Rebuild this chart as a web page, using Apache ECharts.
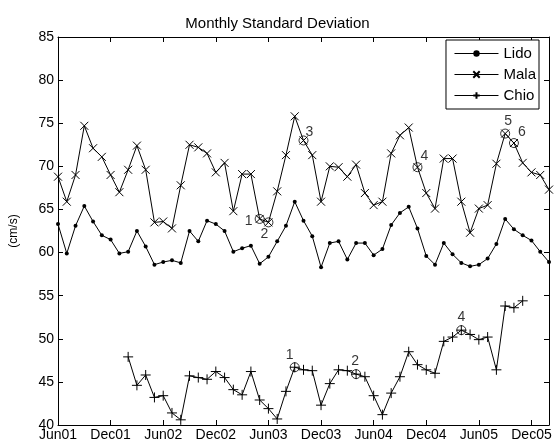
<!DOCTYPE html>
<html>
<head>
<meta charset="utf-8">
<script src="https://cdn.jsdelivr.net/npm/echarts@6/dist/echarts.min.js"></script>
<style>html,body{margin:0;padding:0;background:#fff;}#c{width:555px;height:445px;}</style>
</head>
<body>
<div id="c"></div>
<script>
// Month index 0 = Jun01
const xTickLabels = ['Jun01','Dec01','Jun02','Dec02','Jun03','Dec03','Jun04','Dec04','Jun05','Dec05'];
const lido = [63.3,59.9,63.1,65.4,63.6,62.0,61.5,59.9,60.1,62.5,
              60.7,58.6,58.9,59.1,58.8,62.5,61.3,63.7,63.3,62.5,
              60.1,60.5,60.8,58.7,59.5,61.3,63.1,65.9,63.7,61.9,
              58.3,61.1,61.3,59.2,61.1,61.1,59.7,60.4,63.2,64.6,
              65.3,62.8,59.6,58.6,61.1,59.8,58.8,58.4,58.6,59.3,
              61.0,63.9,62.7,62.0,61.4,60.1,58.9];
const mala = [68.8,65.9,69.0,74.7,72.1,71.1,69.0,67.0,69.6,72.4,
              69.6,63.5,63.6,62.8,67.8,72.5,72.2,71.5,69.3,70.4,
              64.8,69.1,69.1,63.9,63.5,67.1,71.3,75.8,73.0,71.3,
              65.9,70.0,69.9,68.8,70.2,66.9,65.5,65.9,71.5,73.6,
              74.5,69.9,66.9,65.1,70.9,70.9,65.9,62.3,65.1,65.5,
              70.3,73.8,72.7,70.4,69.3,69.0,67.3];
const chio = [null,null,null,null,null,null,null,null,47.9,44.6,
              45.8,43.2,43.4,41.4,40.6,45.7,45.5,45.3,46.2,45.5,
              44.1,43.5,46.2,42.9,41.9,40.7,43.9,46.7,46.4,46.3,
              42.3,44.8,46.4,46.3,45.9,45.6,43.4,41.2,43.7,45.6,
              48.5,47.0,46.4,46.0,49.7,50.2,51.0,50.5,49.9,50.2,
              46.4,53.8,53.6,54.4,null,null,null];
const malaMarkIdx = [23,24,28,41,51,52];
const malaMarkLabels = ['1','2','3','4','5','6'];
const chioMarkIdx = [27,34,46];
const chioMarkLabels = ['1','2','4'];
const seriesNames = ['Lido','Mala','Chio'];
</script>
<script>
const FONT = 'Liberation Sans';
const toPairs = arr => arr.map((v,i)=> v==null ? [i,null] : [i,v]);
const malaOffsets = [[-11,2],[-4,12],[6,-8],[7,-11],[3,-12],[8,-11]];
const chioOffsets = [[-5,-12],[-1,-13],[0,-13]];
function marks(idx, labels, src, offs){
  return idx.map((k,j)=>({
    value:[k, src[k]], name: labels[j],
    label:{show:true, position:'inside', offset:offs[j], formatter: labels[j],
           color:'#000', fontFamily:FONT, fontSize:14}
  }));
}
const xSym = 'path://M0,0L10,10M10,0L0,10';
const pSym = 'path://M5,0L5,10M0,5L10,5';
const lineBase = {type:'line', xAxisIndex:0, yAxisIndex:0, showAllSymbol:true, connectNulls:false,
  lineStyle:{color:'#000', width:1}, animation:false};
const chart = echarts.init(document.getElementById('c'), null, {renderer:'canvas'});
const axisCommon = {
  axisLine:{show:true, onZero:false, lineStyle:{color:'#000', width:1}},
  axisTick:{show:true, inside:true, length:5, lineStyle:{color:'#000'}},
  splitLine:{show:false}
};
chart.setOption({
  animation:false,
  backgroundColor:'#fff',
  title:{text:'Monthly Standard Deviation', left:'center', top:11, itemGap:0,
    textStyle:{fontFamily:FONT, fontSize:15, fontWeight:'normal', color:'#000'}},
  grid:{left:56, right:6, top:37, bottom:20, containLabel:false},
  legend:{data:seriesNames, orient:'vertical', right:16, top:40, itemWidth:44, itemHeight:8, itemGap:6,
    borderColor:'#000', borderWidth:1, padding:[6,3,6,8], backgroundColor:'#fff',
    lineStyle:{width:1, color:'#000'},
    textStyle:{fontFamily:FONT, fontSize:15, color:'#000'}},
  xAxis:[
    Object.assign({type:'value', min:0, max:56, interval:6, position:'bottom',
      axisLabel:{show:true, color:'#000', fontFamily:FONT, fontSize:14, margin:3, showMaxLabel:true,
        formatter:v=> (v%6===0 && xTickLabels[v/6]) ? xTickLabels[v/6] : ''}}, axisCommon),
    Object.assign({type:'value', min:0, max:56, interval:6, position:'top',
      axisLabel:{show:false}}, axisCommon)
  ],
  yAxis:[
    Object.assign({type:'value', min:40, max:85, interval:5, position:'left',
      name:'(cm/s)', nameLocation:'middle', nameGap:38, nameRotate:90,
      nameTextStyle:{fontFamily:FONT, fontSize:12, color:'#000'},
      axisLabel:{show:true, color:'#000', fontFamily:FONT, fontSize:14, margin:4}}, axisCommon),
    Object.assign({type:'value', min:40, max:85, interval:5, position:'right',
      axisLabel:{show:false}}, axisCommon)
  ],
  series:[
    Object.assign({}, lineBase, {name:'Lido', data:toPairs(lido), symbol:'circle', symbolSize:4,
      itemStyle:{color:'#000'}}),
    Object.assign({}, lineBase, {name:'Mala', data:toPairs(mala), symbol:xSym, symbolSize:8,
      itemStyle:{color:'rgba(0,0,0,0)', borderColor:'#000', borderWidth:1}}),
    Object.assign({}, lineBase, {name:'Chio', data:toPairs(chio), symbol:pSym, symbolSize:10,
      itemStyle:{color:'rgba(0,0,0,0)', borderColor:'#000', borderWidth:1}}),
    {type:'scatter', name:'markMala', data:marks(malaMarkIdx, malaMarkLabels, mala, malaOffsets),
      symbol:'circle', symbolSize:9, z:5, silent:true,
      itemStyle:{color:'rgba(0,0,0,0)', borderColor:'#000', borderWidth:1}},
    {type:'scatter', name:'markChio', data:marks(chioMarkIdx, chioMarkLabels, chio, chioOffsets),
      symbol:'circle', symbolSize:9, z:5, silent:true,
      itemStyle:{color:'rgba(0,0,0,0)', borderColor:'#000', borderWidth:1}}
  ]
});
</script>
</body>
</html>
